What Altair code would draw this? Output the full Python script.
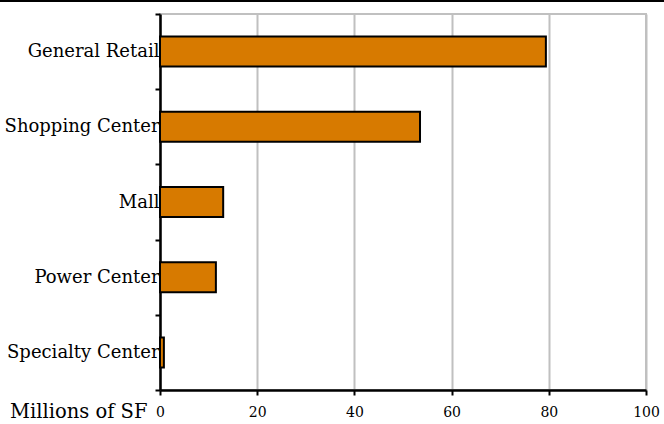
import altair as alt
import pandas as pd

categories = ["General Retail", "Shopping Center", "Mall", "Power Center", "Specialty Center"]
values = [79.4, 53.5, 13.0, 11.5, 0.8]
x_ticks = [0, 20, 40, 60, 80, 100]

df = pd.DataFrame({"cat": categories, "val": values})
FONT = "DejaVu Serif"

bars = alt.Chart(df).mark_bar(color="#D77A00", stroke="black", strokeWidth=2, size=30).encode(
    x=alt.X("val:Q", scale=alt.Scale(domain=[0, 100], nice=False),
            axis=alt.Axis(values=x_ticks, title="Millions of SF", grid=True,
                          gridColor="#c0c0c0", gridWidth=2,
                          domainColor="black", domainWidth=2.5,
                          tickColor="black", tickWidth=2, tickSize=5,
                          labelPadding=10, labelFont=FONT, labelFontSize=14,
                          labelColor="black", labelFlush=False,
                          titleFont=FONT, titleFontSize=19.5, titleFontWeight="normal",
                          titleColor="black", titleX=-13, titleY=12,
                          titleAlign="right", titleBaseline="top", titleAngle=0)),
    y=alt.Y("cat:N", sort=None,
            scale=alt.Scale(paddingInner=0, paddingOuter=0),
            axis=alt.Axis(title=None, tickBand="extent", grid=False,
                          domainColor="black", domainWidth=2.5,
                          tickColor="black", tickWidth=2, tickSize=5,
                          labelPadding=-4, labelFont=FONT, labelFontSize=18,
                          labelColor="black")),
)

topline = alt.Chart(df).mark_rule(color="black", strokeWidth=2).encode(
    x=alt.value(-160), x2=alt.value(504), y=alt.value(-13)
)

chart = alt.layer(bars, topline).properties(
    width=486, height=376,
    autosize=alt.AutoSizeParams(type="none"),
    padding={"left": 160, "top": 14, "right": 18, "bottom": 34},
).configure_view(stroke="#c0c0c0", strokeWidth=2)

chart.save("out.html", embed_options={"renderer": "svg", "actions": False})
